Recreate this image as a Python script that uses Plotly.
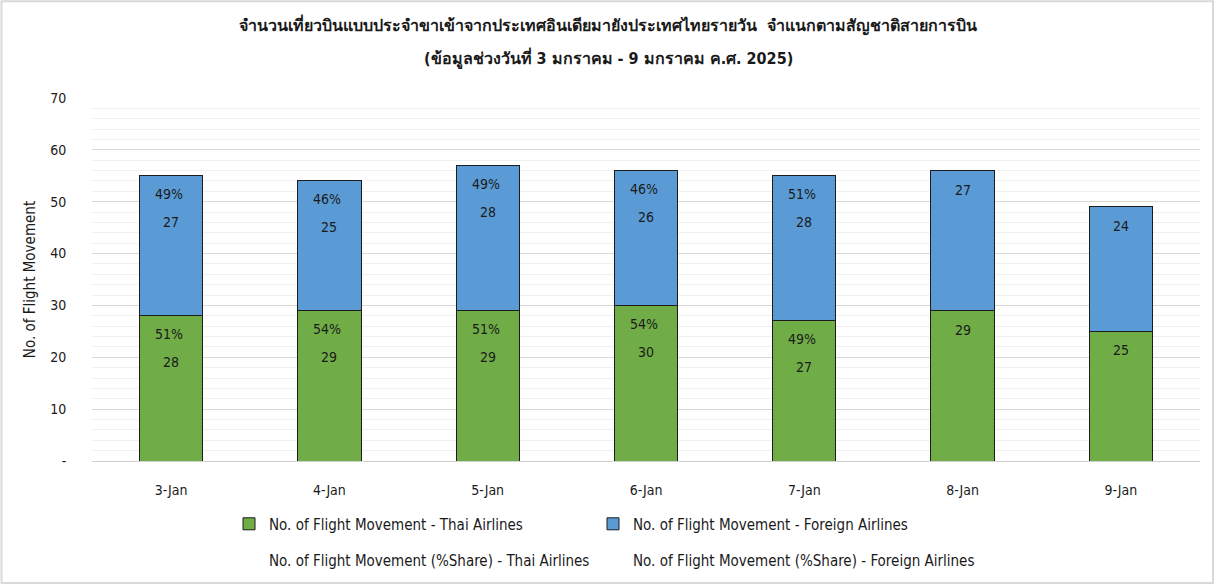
import plotly.graph_objects as go

days = ["3-Jan", "4-Jan", "5-Jan", "6-Jan", "7-Jan", "8-Jan", "9-Jan"]
thai_flights = [28, 29, 29, 30, 27, 29, 25]
foreign_flights = [27, 25, 28, 26, 28, 27, 24]
thai_share = [51, 54, 51, 54, 49, None, None]
foreign_share = [49, 46, 49, 46, 51, None, None]
y_tick_vals = [0, 10, 20, 30, 40, 50, 60, 70]
y_tick_text = ["-", "10", "20", "30", "40", "50", "60", "70"]

title1 = "จำนวนเที่ยวบินแบบประจำขาเข้าจากประเทศอินเดียมายังประเทศไทยรายวัน  จำแนกตามสัญชาติสายการบิน"
title2 = "(ข้อมูลช่วงวันที่ 3 มกราคม - 9 มกราคม ค.ศ. 2025)"

FONT = "Tahoma, 'DejaVu Sans Condensed', 'DejaVu Sans', sans-serif"
TXT = "#1a1a1a"
GREEN = "#70AD47"
BLUE = "#5B9BD5"

# vertical compensation for the capture (page appears ~589px tall, scaled to 585)
SY = 589 / 585
W, H = 1216, 589
L, R = 92, 16
T = round(97 * SY)
B = H - round(461 * SY)
pw, ph = W - L - R, H - T - B

def px_x(x):
    return (x - L) / pw

def px_y(y):
    return (H - B - y * SY) / ph

fig = go.Figure()
fig.add_trace(go.Bar(
    x=days, y=thai_flights, name="No. of Flight Movement - Thai Airlines",
    marker=dict(color=GREEN, line=dict(color="#1c1c1c", width=1)),
    width=0.4, legend="legend",
))
fig.add_trace(go.Bar(
    x=days, y=foreign_flights, name="No. of Flight Movement - Foreign Airlines",
    marker=dict(color=BLUE, line=dict(color="#1c1c1c", width=1)),
    width=0.4, legend="legend",
))
fig.add_trace(go.Scatter(
    x=days, y=[None] * len(days), mode="markers",
    marker=dict(color="rgba(0,0,0,0)", size=1),
    name="No. of Flight Movement (%Share) - Thai Airlines", legend="legend2",
))
fig.add_trace(go.Scatter(
    x=days, y=[None] * len(days), mode="markers",
    marker=dict(color="rgba(0,0,0,0)", size=1),
    name="No. of Flight Movement (%Share) - Foreign Airlines", legend="legend3",
))

# labels inside bars, computed from data
for i, d in enumerate(days):
    tops = [(thai_flights[i], thai_share[i], thai_flights[i]),
            (thai_flights[i] + foreign_flights[i], foreign_share[i], foreign_flights[i])]
    for top, share, val in tops:
        if share is not None:
            fig.add_annotation(x=d, y=top, text=f"{share}%", showarrow=False,
                               yanchor="middle", yshift=-18 * SY, xshift=-2,
                               font=dict(family=FONT, size=14, color=TXT))
            fig.add_annotation(x=d, y=top, text=str(val), showarrow=False,
                               yanchor="middle", yshift=-46 * SY,
                               font=dict(family=FONT, size=14, color=TXT))
        else:
            fig.add_annotation(x=d, y=top, text=str(val), showarrow=False,
                               yanchor="middle", yshift=-19 * SY,
                               font=dict(family=FONT, size=14, color=TXT))

fig.add_annotation(x=px_x(608), y=px_y(58), xref="paper", yref="paper",
                   text=f"<b>{title2}</b>", showarrow=False, yanchor="middle",
                   font=dict(family=FONT, size=16, color=TXT))

# outer frame
fig.add_shape(type="rect", xref="paper", yref="paper",
              x0=px_x(1.5), x1=px_x(1213), y0=px_y(583), y1=px_y(0.5),
              line=dict(color="#d9d9d9", width=2), fillcolor="rgba(0,0,0,0)", layer="below")

leg_font = dict(family=FONT, size=15, color=TXT)
fig.update_layout(
    width=W, height=H,
    margin=dict(l=L, r=R, t=T, b=B),
    barmode="stack",
    plot_bgcolor="white", paper_bgcolor="white",
    font=dict(family=FONT, size=14, color=TXT),
    title=dict(text=f"<b>{title1}</b>", x=0.5, xref="container", xanchor="center",
               y=1 - 25 * SY / H, yref="container", yanchor="middle",
               font=dict(family=FONT, size=16, color=TXT)),
    showlegend=True,
    legend=dict(orientation="h", x=px_x(229), y=px_y(524), xanchor="left", yanchor="middle",
                traceorder="normal",
                entrywidth=319, entrywidthmode="pixels",
                font=leg_font, bgcolor="rgba(0,0,0,0)"),
    legend2=dict(orientation="h", x=px_x(229), y=px_y(560), xanchor="left", yanchor="middle",
                 font=leg_font, bgcolor="rgba(0,0,0,0)"),
    legend3=dict(orientation="h", x=px_x(593), y=px_y(560), xanchor="left", yanchor="middle",
                 font=leg_font, bgcolor="rgba(0,0,0,0)"),
    xaxis=dict(showgrid=False, showline=True, linecolor="#d0d0d0", linewidth=1,
               ticks="outside", ticklen=16, tickcolor="rgba(0,0,0,0)",
               tickfont=dict(family=FONT, size=14, color=TXT)),
    yaxis=dict(range=[0, 70], tickvals=y_tick_vals, ticktext=y_tick_text,
               showgrid=True, gridcolor="#d9d9d9", gridwidth=1,
               minor=dict(dtick=2, showgrid=True, gridcolor="#f0f0f0", gridwidth=1),
               zeroline=False, showline=False,
               ticks="outside", ticklen=22, tickcolor="rgba(0,0,0,0)",
               tickfont=dict(family=FONT, size=14, color=TXT),
               title=dict(text="No. of Flight Movement", standoff=10,
                          font=dict(family=FONT, size=15, color=TXT))),
)

fig.write_html(
    "out.html",
    config={"displayModeBar": False},
    post_script=(
        "document.body.style.margin='0px';"
        "document.documentElement.style.overflow='hidden';"
        "document.body.style.overflow='hidden';"
        "var gd=document.getElementsByClassName('plotly-graph-div')[0];"
        "gd.style.position='fixed';gd.style.top='0px';gd.style.left='0px';"
    ),
)
